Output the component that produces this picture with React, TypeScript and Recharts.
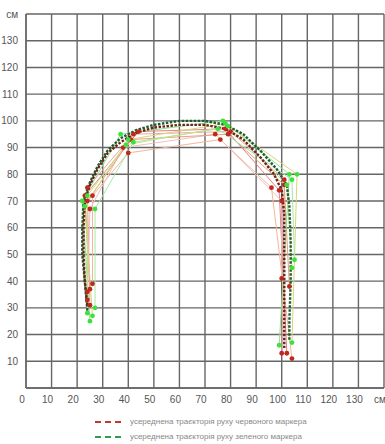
import type { ReactElement } from "react";
import { ComposedChart, Scatter, XAxis, YAxis, CartesianGrid } from "recharts";

type Pt = { x: number; y: number };

const AXIS_TICKS = [0, 10, 20, 30, 40, 50, 60, 70, 80, 90, 100, 110, 120, 130, 140];

// thin trajectories of the red marker
const RED_RUN_1: Pt[] = [
  { x: 25, y: 31 }, { x: 24, y: 75 }, { x: 42, y: 95 }, { x: 80, y: 96 }, { x: 101, y: 78 }, { x: 100, y: 13 },
];
const RED_RUN_2: Pt[] = [
  { x: 25, y: 37 }, { x: 23, y: 72 }, { x: 44, y: 96 }, { x: 78, y: 97 }, { x: 99, y: 74 }, { x: 102, y: 13 },
];
const RED_RUN_3: Pt[] = [
  { x: 26, y: 39 }, { x: 26, y: 72 }, { x: 40, y: 88 }, { x: 76, y: 93 }, { x: 96, y: 75 }, { x: 104, y: 11 },
];
const RED_RUN_4: Pt[] = [
  { x: 24, y: 33 }, { x: 25, y: 67 }, { x: 38, y: 90 }, { x: 74, y: 95 }, { x: 100, y: 70 }, { x: 100, y: 41 },
];
const RED_RUN_5: Pt[] = [
  { x: 24, y: 36 }, { x: 24, y: 70 }, { x: 41, y: 93 }, { x: 79, y: 95 }, { x: 101, y: 76 }, { x: 103, y: 38 },
];

// thin trajectories of the green marker
const GREEN_RUN_1: Pt[] = [
  { x: 25, y: 25 }, { x: 22, y: 70 }, { x: 37, y: 95 }, { x: 77, y: 100 }, { x: 103, y: 80 }, { x: 99, y: 16 },
];
const GREEN_RUN_2: Pt[] = [
  { x: 26, y: 27 }, { x: 23, y: 68 }, { x: 40, y: 93 }, { x: 78, y: 99 }, { x: 106, y: 80 }, { x: 104, y: 17 },
];
const GREEN_RUN_3: Pt[] = [
  { x: 27, y: 30 }, { x: 27, y: 67 }, { x: 42, y: 92 }, { x: 75, y: 97 }, { x: 104, y: 78 }, { x: 105, y: 48 },
];
const GREEN_RUN_4: Pt[] = [
  { x: 24, y: 28 }, { x: 24, y: 72 }, { x: 39, y: 91 }, { x: 79, y: 98 }, { x: 102, y: 76 }, { x: 104, y: 45 },
];

// averaged trajectories
const RED_AVG: Pt[] = [
  { x: 24, y: 31 }, { x: 23, y: 40 }, { x: 22.5, y: 50 }, { x: 22.5, y: 60 }, { x: 23, y: 70 },
  { x: 25, y: 76 }, { x: 28, y: 82 }, { x: 32, y: 88 }, { x: 37, y: 92 }, { x: 43, y: 95.5 },
  { x: 50, y: 97.5 }, { x: 60, y: 98.5 }, { x: 70, y: 98.5 }, { x: 78, y: 97 }, { x: 85, y: 93 },
  { x: 92, y: 86 }, { x: 97, y: 80 }, { x: 100, y: 74 }, { x: 101, y: 65 }, { x: 101, y: 50 },
  { x: 101, y: 35 }, { x: 101, y: 20 }, { x: 101, y: 15 },
];
const GREEN_AVG: Pt[] = [
  { x: 24, y: 29 }, { x: 23, y: 40 }, { x: 22, y: 50 }, { x: 22, y: 60 }, { x: 22.5, y: 70 },
  { x: 25, y: 77 }, { x: 28, y: 83 }, { x: 32, y: 89 }, { x: 37, y: 93.5 }, { x: 43, y: 96.5 },
  { x: 50, y: 98.5 }, { x: 60, y: 100 }, { x: 70, y: 100 }, { x: 78, y: 98.5 }, { x: 85, y: 95 },
  { x: 92, y: 88.5 }, { x: 98, y: 82 }, { x: 102, y: 76 }, { x: 103, y: 68 }, { x: 103.5, y: 55 },
  { x: 103.5, y: 40 }, { x: 103, y: 25 }, { x: 103, y: 18 },
];

const RED_RUNS = [RED_RUN_1, RED_RUN_2, RED_RUN_3, RED_RUN_4, RED_RUN_5];
const GREEN_RUNS = [GREEN_RUN_1, GREEN_RUN_2, GREEN_RUN_3, GREEN_RUN_4];
const RED_LINE_COLORS = ["#f2a3a3", "#e88080", "#f5b59a", "#f0c0c0", "#e9a07a"];
const GREEN_LINE_COLORS = ["#8fe08f", "#d6d67a", "#a8e8a8", "#c8e090"];

const FONT = '"Liberation Sans", Arial, sans-serif';

function dot(fill: string) {
  return (p: { cx?: number; cy?: number }) => (
    <circle cx={p.cx} cy={p.cy} r={2.4} fill={fill} />
  );
}

const noDot = () => <g />;

export default function App(): ReactElement {
  const fmt = (v: number) => (v === 140 ? "см" : `${v}`);
  return (
    <div style={{ position: "fixed", left: 0, top: 0, width: 385, height: 444, background: "#fff", fontFamily: FONT }}>
      <ComposedChart width={385} height={410} margin={{ top: 14, right: 1, bottom: 2, left: 0 }}>
        <CartesianGrid stroke="#666" strokeWidth={1.4} />
        <XAxis
          type="number"
          dataKey="x"
          domain={[0, 140]}
          ticks={AXIS_TICKS}
          interval={0}
          tickFormatter={fmt}
          tick={{ fontSize: 10, fill: "#555", fontFamily: FONT, dx: -4 }}
          axisLine={{ stroke: "#666", strokeWidth: 1.4 }}
          tickLine={false}
          height={20}
        />
        <YAxis
          type="number"
          dataKey="y"
          domain={[0, 140]}
          ticks={AXIS_TICKS.slice(1)}
          interval={0}
          tickFormatter={fmt}
          tick={{ fontSize: 10, fill: "#555", fontFamily: FONT }}
          axisLine={{ stroke: "#666", strokeWidth: 1.4 }}
          tickLine={false}
          width={26}
        />
        {RED_RUNS.map((run, i) => (
          <Scatter
            key={`r${i}`}
            data={run}
            line={{ stroke: RED_LINE_COLORS[i], strokeWidth: 1 }}
            shape={noDot}
            isAnimationActive={false}
          />
        ))}
        {GREEN_RUNS.map((run, i) => (
          <Scatter
            key={`g${i}`}
            data={run}
            line={{ stroke: GREEN_LINE_COLORS[i], strokeWidth: 1 }}
            shape={noDot}
            isAnimationActive={false}
          />
        ))}
        <Scatter
          data={GREEN_AVG}
          line={{ stroke: "#1d5c2e", strokeWidth: 2.4, strokeDasharray: "2.5 1.5" }}
          shape={noDot}
          isAnimationActive={false}
        />
        <Scatter
          data={RED_AVG}
          line={{ stroke: "#6b2416", strokeWidth: 2.4, strokeDasharray: "2.5 1.5" }}
          shape={noDot}
          isAnimationActive={false}
        />
        {RED_RUNS.map((run, i) => (
          <Scatter key={`rd${i}`} data={run} shape={dot("#c0281e")} isAnimationActive={false} />
        ))}
        {GREEN_RUNS.map((run, i) => (
          <Scatter key={`gd${i}`} data={run} shape={dot("#3ee03e")} isAnimationActive={false} />
        ))}
      </ComposedChart>
      <div style={{ position: "absolute", left: 95, top: 414, fontSize: 8, color: "#888", lineHeight: "15px" }}>
        <div style={{ display: "flex", alignItems: "center" }}>
          <span style={{ display: "inline-block", width: 26, borderTop: "2px dashed #c0392b", marginRight: 9 }} />
          усереднена траєкторія руху червоного маркера
        </div>
        <div style={{ display: "flex", alignItems: "center" }}>
          <span style={{ display: "inline-block", width: 26, borderTop: "2px dashed #2e9e4e", marginRight: 9 }} />
          усереднена траєкторія руху зеленого маркера
        </div>
      </div>
    </div>
  );
}
